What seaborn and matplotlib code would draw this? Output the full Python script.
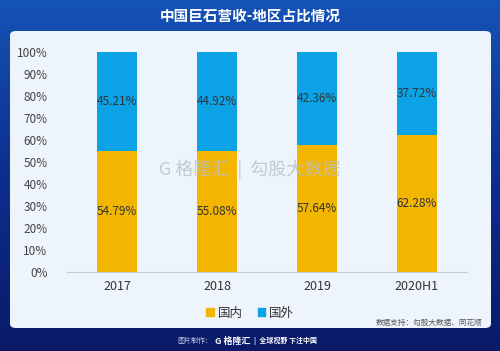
import numpy as np
import pandas as pd
import seaborn as sns
import matplotlib.pyplot as plt
from matplotlib.patches import FancyBboxPatch, Patch
from matplotlib.colors import LinearSegmentedColormap

years = ['2017', '2018', '2019', '2020H1']
domestic = [54.79, 55.08, 57.64, 62.28]
foreign = [45.21, 44.92, 42.36, 37.72]

YELLOW = '#f2b600'
BLUE = '#0ba3e6'

sns.set_style('white')
plt.rcParams['font.family'] = ['Noto Sans CJK SC', 'DejaVu Sans']

df = pd.DataFrame({'year': years, 'domestic': domestic, 'foreign': foreign})
df['total'] = df['domestic'] + df['foreign']

fig = plt.figure(figsize=(5, 3.51), dpi=100)

# background gradient
bg = fig.add_axes([0, 0, 1, 1])
cmap = LinearSegmentedColormap.from_list('bg', ['#1553b6', '#0d2e8e', '#0a1a68'])
grad = np.linspace(0, 1, 256).reshape(-1, 1)
bg.imshow(grad, aspect='auto', cmap=cmap, extent=[0, 1, 0, 1], origin='upper')
bg.set_xlim(0, 1)
bg.set_ylim(0, 1)
bg.axis('off')

# light panel
panel = FancyBboxPatch((10 / 500, 23 / 351), 481 / 500, 297 / 351,
                       boxstyle='round,pad=0,rounding_size=0.012',
                       transform=bg.transAxes, facecolor='#eef4fb', edgecolor='none')
bg.add_patch(panel)

fig.text(0.5, 1 - 16 / 351, '中国巨石营收-地区占比情况', color='white', fontsize=10.5,
         ha='center', va='center', fontweight='bold')

# watermark
fig.text(0.5, 1 - 170 / 351, 'G 格隆汇  |  勾股大数据', color='#b9c0ca', fontsize=13,
         ha='center', va='center', alpha=0.8, zorder=0)

ax = fig.add_axes([67 / 500, 79 / 351, 400 / 500, 220 / 351])
ax.patch.set_alpha(0)
sns.barplot(data=df, x='year', y='total', color=BLUE, width=0.4, ax=ax, saturation=1,
            linewidth=0, edgecolor='none')
sns.barplot(data=df, x='year', y='domestic', color=YELLOW, width=0.4, ax=ax, saturation=1,
            linewidth=0, edgecolor='none')

for i, (d, f) in enumerate(zip(domestic, foreign)):
    ax.text(i, d / 2, f'{d:.2f}%', ha='center', va='center', fontsize=8.5, color='#333333')
    ax.text(i, d + f / 2, f'{f:.2f}%', ha='center', va='center', fontsize=8.5, color='#333333')

ax.set_ylim(0, 100)
ax.set_yticks(range(0, 101, 10))
ax.set_yticklabels([f'{v}%' for v in range(0, 101, 10)])
ax.set_xlim(-0.5, 3.5)
ax.set_xlabel('')
ax.set_ylabel('')
for s in ['top', 'right', 'left']:
    ax.spines[s].set_visible(False)
ax.spines['bottom'].set_color('#c8ccd2')
ax.tick_params(axis='y', length=0, labelsize=8.5, labelcolor='#444444', pad=14)
ax.tick_params(axis='x', length=0, labelsize=9, labelcolor='#333333', pad=6)

handles = [Patch(color=YELLOW, label='国内'), Patch(color=BLUE, label='国外')]
fig.legend(handles=handles, loc='center', bbox_to_anchor=(0.5, 1 - 313 / 351), ncol=2,
           frameon=False, fontsize=9, handlelength=0.6, handleheight=0.6,
           handletextpad=0.3, columnspacing=1.2, labelcolor='#333333')

fig.text(482 / 500, 1 - 323 / 351, '数据支持：勾股大数据、同花顺', fontsize=5.5,
         color='#555555', ha='right', va='center')

fig.text(212 / 500, 1 - 341 / 351, '图片制作：', fontsize=5, color='#c8d0e8',
         ha='right', va='center')
fig.text(215 / 500, 1 - 341 / 351, 'G 格隆汇', fontsize=6.5, color='white',
         ha='left', va='center', fontweight='bold')
fig.text(254 / 500, 1 - 341 / 351, '|  全球视野 下注中国', fontsize=5, color='white',
         ha='left', va='center', fontweight='bold')

fig.savefig('out.png', dpi=100)
